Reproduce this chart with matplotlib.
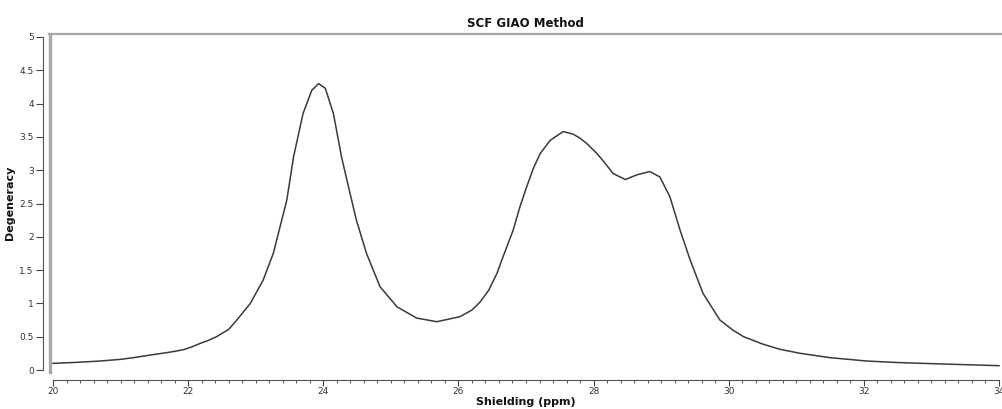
import matplotlib
matplotlib.use("Agg")
import matplotlib.pyplot as plt
from matplotlib.lines import Line2D
from matplotlib.ticker import MultipleLocator

shielding = [20.0, 20.35, 20.70, 21.00, 21.19, 21.44, 21.68, 21.80, 21.93, 22.05,
             22.18, 22.30, 22.42, 22.60, 22.72, 22.92, 23.11, 23.26, 23.36, 23.46,
             23.56, 23.70, 23.83, 23.93, 24.03, 24.15, 24.27, 24.35, 24.49, 24.64,
             24.84, 25.09, 25.38, 25.68, 26.02, 26.20, 26.32, 26.45, 26.57, 26.66,
             26.81, 26.91, 27.01, 27.11, 27.21, 27.36, 27.55, 27.70, 27.80, 27.90,
             28.05, 28.15, 28.29, 28.47, 28.64, 28.83, 28.98, 29.13, 29.28, 29.43,
             29.62, 29.87, 30.06, 30.22, 30.50, 30.76, 31.06, 31.50, 32.04, 32.50,
             33.02, 33.50, 34.0]
degeneracy = [0.10, 0.115, 0.135, 0.16, 0.185, 0.225, 0.26, 0.28, 0.305, 0.345,
              0.40, 0.445, 0.50, 0.61, 0.75, 1.00, 1.35, 1.75, 2.15, 2.55,
              3.20, 3.85, 4.20, 4.30, 4.23, 3.85, 3.20, 2.85, 2.25, 1.75,
              1.25, 0.95, 0.78, 0.725, 0.80, 0.90, 1.02, 1.20, 1.45, 1.70,
              2.10, 2.45, 2.75, 3.03, 3.25, 3.45, 3.58, 3.54, 3.48, 3.40,
              3.25, 3.13, 2.95, 2.86, 2.93, 2.98, 2.90, 2.60, 2.10, 1.65,
              1.15, 0.75, 0.60, 0.50, 0.39, 0.31, 0.25, 0.185, 0.135, 0.112,
              0.095, 0.08, 0.065]

W, H = 1002, 409
fig = plt.figure(figsize=(W / 100, H / 100), dpi=100)
ax_l, ax_r, ax_t, ax_b = 49, 1002, 34, 372
ax = fig.add_axes([ax_l / W, 1 - ax_b / H, (ax_r - ax_l) / W, (ax_b - ax_t) / H])

ax.plot(shielding, degeneracy, color="#3a3a3a", lw=1.1, solid_joinstyle="round")

ax.set_xlim(20 - 4 / 67.57, 34 + 3 / 67.57)
ax.set_ylim(-2 / 66.6, 5 + 3 / 66.6)

ax.xaxis.set_minor_locator(MultipleLocator(0.2))
ax.set_xticks([20, 22, 24, 26, 28, 30, 32, 34])
ax.set_xticklabels(["20", "22", "24", "26", "28", "30", "32", "34"])
ax.set_yticks([0, 0.5, 1, 1.5, 2, 2.5, 3, 3.5, 4, 4.5, 5])
ax.set_yticklabels(["0", "0.5", "1", "1.5", "2", "2.5", "3", "3.5", "4", "4.5", "5"])

ax.spines["right"].set_visible(False)
ax.spines["top"].set_color("#a8a8a8")
ax.spines["top"].set_linewidth(1.6)
ax.spines["left"].set_position(("outward", 4))
ax.spines["left"].set_bounds(0, 5)
ax.spines["left"].set_color("#555555")
ax.spines["left"].set_linewidth(0.8)
ax.spines["bottom"].set_position(("outward", 6))
ax.spines["bottom"].set_bounds(20, 34)
ax.spines["bottom"].set_color("#555555")
ax.spines["bottom"].set_linewidth(0.8)

ax.add_line(Line2D([0.0015, 0.0015], [0, 1], transform=ax.transAxes,
                   color="#a8a8a8", lw=2.4, clip_on=False))

ax.tick_params(axis="both", which="major", labelsize=6.5, colors="#444444",
               labelcolor="#333333", width=0.8)
ax.tick_params(axis="x", which="major", length=4, pad=0.5)
ax.tick_params(axis="x", which="minor", length=2.5, width=0.7, colors="#555555")
ax.tick_params(axis="y", which="major", length=5, pad=2)

ax.set_title("SCF GIAO Method", fontsize=8.5, fontweight="bold", pad=5, color="#111111")
ax.set_xlabel("Shielding (ppm)", fontsize=8, fontweight="bold", labelpad=1, color="#111111")
ax.set_ylabel("Degeneracy", fontsize=8, fontweight="bold", color="#111111")
ax.yaxis.set_label_coords(-34 / (ax_r - ax_l), 0.5)

fig.savefig("out.png", dpi=100)
